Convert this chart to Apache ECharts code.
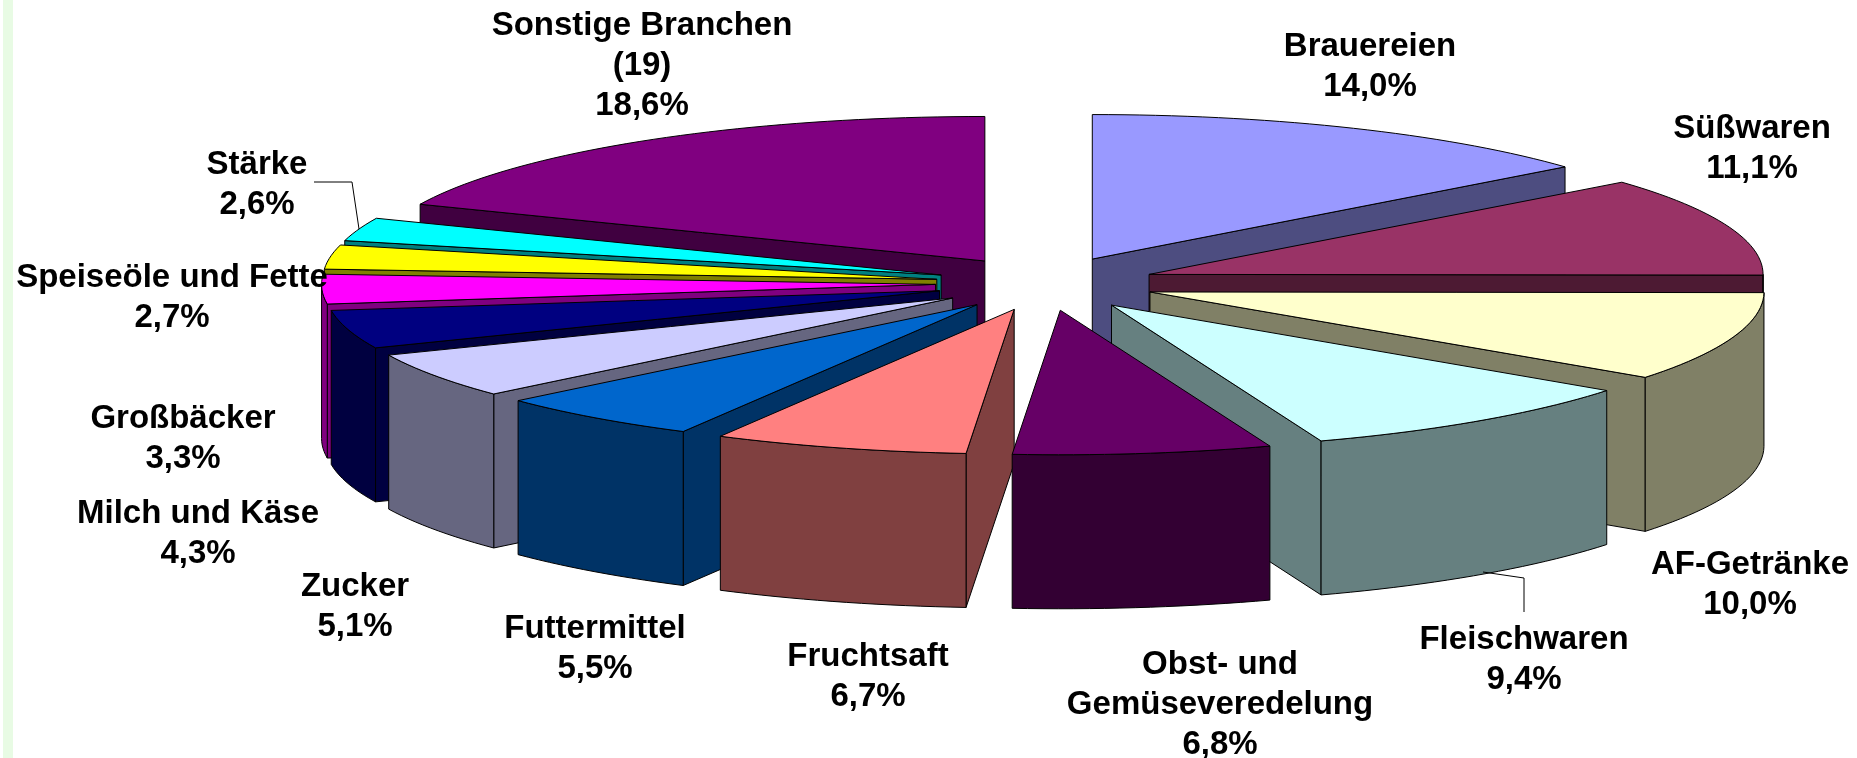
<!DOCTYPE html>
<html>
<head>
<meta charset="utf-8">
<title>Branchen</title>
<script src="https://cdn.jsdelivr.net/npm/echarts@6/dist/echarts.min.js"></script>
<style>
  html, body { margin: 0; padding: 0; background: #fff; }
  #chart { width: 1857px; height: 758px; }
</style>
</head>
<body>
<div id="chart"></div>
<script>
// Daten, im Uhrzeigersinn ab 12 Uhr
const categories = ['Brauereien', 'Süßwaren', 'AF-Getränke', 'Fleischwaren', 'Obst- und\nGemüseveredelung',
  'Fruchtsaft', 'Futtermittel', 'Zucker', 'Milch und Käse', 'Großbäcker', 'Speiseöle und Fette', 'Stärke',
  'Sonstige Branchen\n(19)']
const shares = [14.0, 11.1, 10.0, 9.4, 6.8, 6.7, 5.5, 5.1, 4.3, 3.3, 2.7, 2.6, 18.6]
const colors = ['#9999FF', '#993366', '#FFFFCC', '#CCFFFF', '#660066', '#FF8080', '#0066CC', '#CCCCFF',
  '#000080', '#FF00FF', '#FFFF00', '#00FFFF', '#800080']

// Beschriftungen: Mittelpunkt je Kategorie
const labelCenters = [[1370, 67], [1752, 149], [1750, 585], [1524, 660], [1220, 705], [868, 677], [595, 649],
  [355, 607], [198, 534], [183, 439], [172, 298], [257, 185], [642, 66]]

// Geometrie der 3D-Torte
const cx = 1045.5, cy = 283.5
const rx = 614, ry = 144.5
const explodeX = 110, explodeY = 27
const depth = 154

const total = shares.reduce((a, b) => a + b, 0)
let sum = 0
const slices = shares.map((v, i) => {
  const start = sum / total * 360
  sum += v
  return [start, sum / total * 360, i]
})
// von hinten nach vorne zeichnen
const drawOrder = slices.slice().sort((a, b) => {
  return Math.abs((b[0] + b[1]) / 2 - 180) - Math.abs((a[0] + a[1]) / 2 - 180)
})

const rad = d => d * Math.PI / 180
const lineStyle = { stroke: '#000', lineWidth: 1, lineJoin: 'round' }

// Seitenflaechen: halbe Helligkeit der Deckflaeche
const darken = c => {
  const rgb = echarts.color.parse(c)
  return 'rgb(' + rgb.slice(0, 3).map(v => Math.round(v / 2)).join(',') + ')'
}

const renderSlice = (params, api) => {
  const a0 = api.value(0), a1 = api.value(1)
  const color = colors[api.value(2)]
  const dark = darken(color)
  const mid = rad((a0 + a1) / 2)
  const ax = cx + explodeX * Math.sin(mid)
  const ay = cy - explodeY * Math.cos(mid)
  const rim = a => [ax + rx * Math.sin(rad(a)), ay - ry * Math.cos(rad(a))]
  const down = p => [p[0], p[1] + depth]
  const arc = (from, to) => {
    const pts = []
    const n = Math.max(2, Math.ceil((to - from) / 1.5))
    for (let k = 0; k <= n; k++) pts.push(rim(from + (to - from) * k / n))
    return pts
  }
  const face = (pts, fill) => ({
    type: 'polygon',
    shape: { points: pts },
    style: Object.assign({ fill: fill }, lineStyle)
  })
  const children = []
  // Schnittflaechen, nur wenn zum Betrachter gerichtet
  if (a0 > 180) children.push(face([[ax, ay], rim(a0), down(rim(a0)), [ax, ay + depth]], dark))
  if (a1 < 180) children.push(face([[ax, ay], rim(a1), down(rim(a1)), [ax, ay + depth]], dark))
  // Aussenwand, nur vordere Haelfte
  const w0 = Math.max(a0, 90), w1 = Math.min(a1, 270)
  if (w1 > w0) {
    const top = arc(w0, w1)
    children.push(face(top.concat(top.map(down).reverse()), dark))
  }
  // Deckflaeche
  children.push(face([[ax, ay]].concat(arc(a0, a1)), color))
  return { type: 'group', children: children }
}

const labelText = i => categories[i] + '\n' + shares[i].toFixed(1).replace('.', ',') + '%'

const labels = categories.map((c, i) => ({
  type: 'text',
  z: 10,
  style: {
    x: labelCenters[i][0],
    y: labelCenters[i][1],
    text: labelText(i),
    align: 'center',
    verticalAlign: 'middle',
    lineHeight: 40,
    fontFamily: '"Liberation Sans", Arial, sans-serif',
    fontWeight: 'bold',
    fontSize: 33,
    fill: '#000'
  }
}))

const leader = pts => ({
  type: 'polyline',
  z: 9,
  shape: { points: pts },
  style: { stroke: '#000', lineWidth: 1, fill: 'none' }
})

const chart = echarts.init(document.getElementById('chart'))
chart.setOption({
  backgroundColor: '#fff',
  animation: false,
  graphic: {
    elements: [
      // hellgruener Rand links
      { type: 'rect', z: -1, shape: { x: 3, y: 0, width: 10, height: 758 }, style: { fill: '#E8FBE4' } },
      leader([[314, 182], [352, 182], [359, 229]]),
      leader([[1524, 612], [1524, 578], [1483, 572]])
    ].concat(labels)
  },
  series: [
    {
      type: 'custom',
      coordinateSystem: 'none',
      silent: true,
      renderItem: renderSlice,
      data: drawOrder
    }
  ]
})
</script>
</body>
</html>
